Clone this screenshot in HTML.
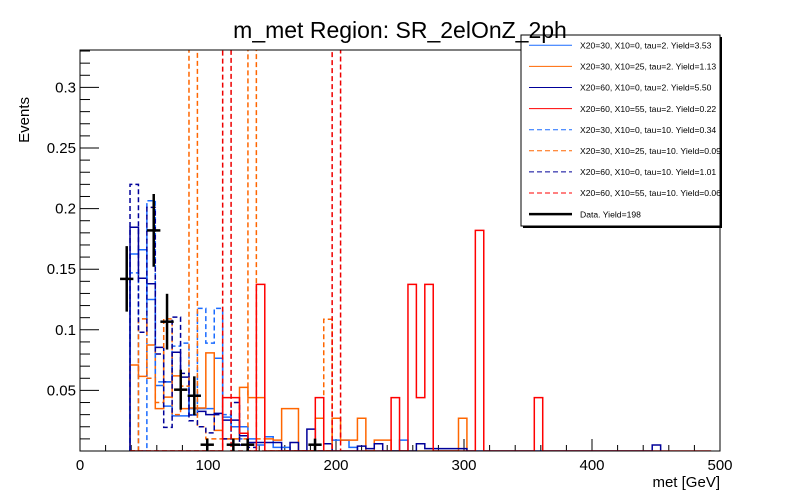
<!DOCTYPE html>
<html><head><meta charset="utf-8"><style>
html,body{margin:0;padding:0;background:#fff;}
svg{display:block;font-family:"Liberation Sans",Arial,sans-serif;}
</style></head><body>
<svg id="chart" width="800" height="500" viewBox="0 0 800 500">
<defs><clipPath id="plotclip"><rect x="80" y="50" width="640" height="401"/></clipPath></defs>
<rect x="0" y="0" width="800" height="500" fill="#fff"/>
<g id="axes"></g>
<g id="series" clip-path="url(#plotclip)"></g>
<g id="data"></g>
<rect x="80" y="50" width="640" height="401" fill="none" stroke="#000" stroke-width="1"/>
<text x="720" y="487" text-anchor="end" font-size="15">met [GeV]</text>
<text transform="translate(29,97) rotate(-90)" text-anchor="end" font-size="15">Events</text>
<g id="legend"></g>
<text x="400" y="38" text-anchor="middle" font-size="23">m_met Region: SR_2elOnZ_2ph</text>
</svg>
<script>
// ---- data ----
const binStart = 6;      // first bin index of series arrays
const binWidth = 6.58;   // GeV
const binOrigin = -0.4;  // GeV
const blueSolid   = [0.1625,0.166,0.125,0.054,0.037,0.029,0.029,0.035,0.035,0.035,0.0765,0.028,0.02,0.02,0.01,0.005,0.0118,0.003,0.003,0,0,0,0,0,0.009,0.009,0.003,0,0,0,0,0,0.009];
const orangeSolid = [0.071,0.0616,0.0875,0.035,0.0445,0.062,0.035,0.0355,0.0355,0.081,0.017,0.01,0.01,0.0525,0.044,0.044,0.01,0.009,0.035,0.035,0,0,0.027,0,0.027,0.009,0.009,0.027,0,0.009,0.009,0,0,0,0,0,0,0,0,0.027];
const navySolid   = [0.1846,0.1425,0.138,0.0855,0.057,0.0815,0.061,0.0297,0.0327,0.03,0.031,0.0255,0.0255,0.0126,0.007,0.007,0.007,0.007,0,0.007,0,0.018,0,0.006,0,0,0,0.004,0.002,0.006,0,0,0,0,0.006,0.002,0.002,0.002,0.002,0.002,0,0,0,0,0,0,0,0,0,0,0,0,0,0,0,0,0,0,0,0,0,0,0.005];
const redSolid    = [0,0,0,0,0,0,0,0,0,0,0,0.044,0.044,0.0146,0,0.1375,0,0,0,0,0,0,0.044,0,0,0,0,0,0,0,0,0.044,0,0.1375,0.044,0.1375,0,0,0,0,0,0.182,0,0,0,0,0,0,0.044,0,0,0,0,0,0,0,0,0,0,0,0,0,0,0,0,0,0,0,0];
const blueDashed  = [0.147,0,0.2065,0.057,0.057,0.0865,0.089,0.03,0.1177,0.089,0.1177,0.03,0.02,0.01,0.005];
const orangeDashed= [0,0.109,0.06,0.04,0.109,0.03,0.0535,0.5,0.02,0.01,0.01,0.01,0.01,0.01,0.5,0.01,0,0,0,0,0,0,0,0.1087];
const navyDashed  = [0.22,0.098,0.201,0.08,0.0195,0.1105,0.064,0.025,0.02,0.015,0.03,0.01,0.04,0.005,0.003];
const redDashed   = [0,0,0,0,0,0,0,0,0,0,0,0.5,0,0,0,0,0,0,0,0,0,0,0,0,0.5];
const dataX   = [36.5,57.6,68,78.7,89.3,99.4,119.8,131,183.6];
const dataY   = [0.142,0.182,0.1067,0.0506,0.0456,0.0052,0.0052,0.0052,0.0052];
const dataErr = [0.027,0.03,0.023,0.0165,0.016,0.005,0.005,0.005,0.005];
const xTicks = [0,100,200,300,400,500];
const yTicks = [0.05,0.1,0.15,0.2,0.25,0.3];
const legendLabels = ["X20=30, X10=0, tau=2. Yield=3.53","X20=30, X10=25, tau=2. Yield=1.13","X20=60, X10=0, tau=2. Yield=5.50","X20=60, X10=55, tau=2. Yield=0.22","X20=30, X10=0, tau=10. Yield=0.34","X20=30, X10=25, tau=10. Yield=0.09","X20=60, X10=0, tau=10. Yield=1.01","X20=60, X10=55, tau=10. Yield=0.06","Data. Yield=198"];

const NS="http://www.w3.org/2000/svg";
const X = v => 80 + v*1.28;
const Y = v => 451 - v*1212;
function mk(tag, attrs, parent){const e=document.createElementNS(NS,tag);for(const k in attrs)e.setAttribute(k,attrs[k]);parent.appendChild(e);return e;}

// axes ticks
const ax=document.getElementById('axes');
for(let v=0; v<=500; v+=20){
  const major = v%100===0;
  const t=mk('line',{x1:X(v),x2:X(v),y1:451,y2:451-(major?12:6),stroke:'#000','stroke-width':1},ax);
  
  
}
xTicks.forEach(v=>{const t=mk('text',{x:X(v),y:470,'text-anchor':'middle','font-size':15},ax);t.textContent=v;
  
  });
for(let i=1;i<=33;i++){
  const v=i*0.01; const major=i%5===0;
  const t=mk('line',{x1:80,x2:80+(major?19:10),y1:Y(v),y2:Y(v),stroke:'#000','stroke-width':1},ax);
  
  
}
yTicks.forEach(v=>{const t=mk('text',{x:76,y:Y(v)+5,'text-anchor':'end','font-size':15},ax);t.textContent=String(v);
  
  });

// histograms
const sg=document.getElementById('series');
function hist(vals,color,dash,name){
  const lo=k=>X(binOrigin+binWidth*(binStart+k));
  let d=`M${lo(0)},${Y(0)}`;
  vals.forEach((v,k)=>{d+=` V${Y(v)} H${lo(k+1)}`;});
  d+=` V${Y(0)}`;
  const p=mk('path',{d:d,fill:'none',stroke:color,'stroke-width':1.5},sg);
  if(dash)p.setAttribute('stroke-dasharray','5,3');
  
  
}
hist(blueSolid,'#1a6bff',false,'hist-x20-30-x10-0-tau2');
hist(orangeSolid,'#ff6600',false,'hist-x20-30-x10-25-tau2');
hist(navySolid,'#000099',false,'hist-x20-60-x10-0-tau2');
hist(blueDashed,'#1a6bff',true,'hist-x20-30-x10-0-tau10');
hist(orangeDashed,'#ff6600',true,'hist-x20-30-x10-25-tau10');
hist(navyDashed,'#000099',true,'hist-x20-60-x10-0-tau10');
hist(redDashed,'#ee0000',true,'hist-x20-60-x10-55-tau10');
hist(redSolid,'#ff0000',false,'hist-x20-60-x10-55-tau2');

// data points
const dg=document.getElementById('data');
dataX.forEach((x,i)=>{
  const g=mk('g',{},dg);
  
  
  mk('line',{x1:X(x-5.2),x2:X(x+5.2),y1:Y(dataY[i]),y2:Y(dataY[i]),stroke:'#000','stroke-width':2.5},g);
  mk('line',{x1:X(x),x2:X(x),y1:Y(dataY[i]+dataErr[i]),y2:Math.min(451,Y(dataY[i]-dataErr[i])),stroke:'#000','stroke-width':2.5},g);
});

// legend
const lg=document.getElementById('legend');
const lb=mk('rect',{x:523,y:37,width:199,height:191,fill:'#000'},lg);


const lr=mk('rect',{x:521,y:35,width:199,height:191,fill:'#fff',stroke:'#000','stroke-width':1},lg);


const lcol=['#1a6bff','#ff6600','#000099','#ff0000','#1a6bff','#ff6600','#000099','#ff0000','#000'];
legendLabels.forEach((s,i)=>{
  const y=45.3+i*21.1;
  const g=mk('g',{},lg);
  
  
  const l=mk('line',{x1:529,x2:572,y1:y,y2:y,stroke:lcol[i],'stroke-width':i===8?2.5:1},g);
  if(i>=4&&i<8)l.setAttribute('stroke-dasharray','5,3');
  const t=mk('text',{x:580,y:y+3.2,'font-size':8.6},g);t.textContent=s;
});
</script>
</body></html>
